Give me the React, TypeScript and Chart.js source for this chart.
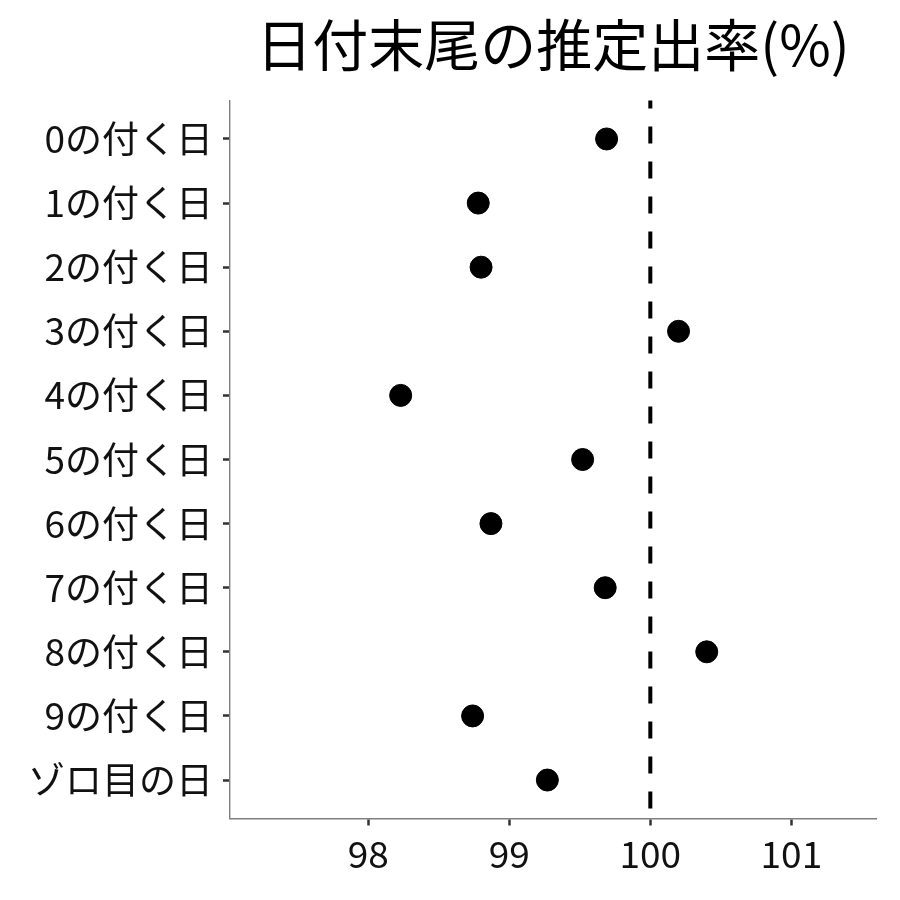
import React, { useEffect, useRef } from "react";
import { Chart, registerables } from "chart.js";

Chart.register(...registerables);

const categories = [
  "0の付く日",
  "1の付く日",
  "2の付く日",
  "3の付く日",
  "4の付く日",
  "5の付く日",
  "6の付く日",
  "7の付く日",
  "8の付く日",
  "9の付く日",
  "ゾロ目の日",
];
const rates = [99.69, 98.78, 98.8, 100.2, 98.23, 99.52, 98.87, 99.68, 100.4, 98.74, 99.27];
const xTicks = [98, 99, 100, 101];
const refValue = 100;
const title = "日付末尾の推定出率(%)";

const FONT = "'Noto Sans CJK JP', 'Noto Sans', sans-serif";

const refLinePlugin = {
  id: "refLine",
  afterDatasetsDraw(chart: any) {
    const { ctx, chartArea, scales } = chart;
    const x = scales.x.getPixelForValue(refValue);
    ctx.save();
    ctx.beginPath();
    ctx.strokeStyle = "#000";
    ctx.lineWidth = 4;
    ctx.setLineDash([17, 18]);
    ctx.lineDashOffset = 9;
    ctx.moveTo(x, chartArea.top);
    ctx.lineTo(x, chartArea.bottom);
    ctx.stroke();
    ctx.restore();
  },
};

export default function App() {
  const ref = useRef<HTMLCanvasElement>(null);
  useEffect(() => {
    if (!ref.current) return;
    const chart = new Chart(ref.current, {
      type: "scatter",
      data: {
        datasets: [
          {
            data: rates.map((v, i) => ({ x: v, y: i })),
            backgroundColor: "#000",
            borderColor: "#000",
            pointRadius: 11,
            pointHoverRadius: 11,
          },
        ],
      },
      options: {
        animation: false,
        responsive: false,
        maintainAspectRatio: false,
        layout: { padding: { left: 0, right: 24, top: 0, bottom: 0 } },
        plugins: {
          legend: { display: false },
          tooltip: { enabled: false },
          title: {
            display: true,
            text: title,
            fullSize: false,
            color: "#000",
            font: { family: FONT, size: 56, weight: "normal", lineHeight: 1.2 },
            padding: { top: 11, bottom: 22.3 },
          },
        },
        scales: {
          x: {
            type: "linear",
            min: 97.02,
            max: 101.6,
            afterBuildTicks: (s: any) => {
              s.ticks = xTicks.map((v) => ({ value: v }));
            },
            afterFit: (s: any) => {
              s.height = 81.5;
            },
            grid: { drawOnChartArea: false, drawTicks: true, tickLength: 7, tickColor: "#333", tickWidth: 2.5 },
            border: { display: true, color: "#7f7f7f", width: 1.4 },
            ticks: {
              color: "#111",
              padding: 6,
              font: { family: FONT, size: 37 },
              callback: (v: any) => String(v),
            },
          },
          y: {
            type: "linear",
            min: -0.6,
            max: 10.6,
            reverse: true,
            afterBuildTicks: (s: any) => {
              s.ticks = categories.map((_, i) => ({ value: i }));
            },
            afterFit: (s: any) => {
              s.width = 230;
            },
            grid: { drawOnChartArea: false, drawTicks: true, tickLength: 7, tickColor: "#333", tickWidth: 2.5 },
            border: { display: true, color: "#7f7f7f", width: 1.4 },
            ticks: {
              color: "#111",
              padding: 10,
              font: { family: FONT, size: 37 },
              callback: (v: any) => categories[v] ?? "",
            },
          },
        },
      },
      plugins: [refLinePlugin],
    });
    return () => chart.destroy();
  }, []);
  return (
    <div style={{ position: "absolute", left: 0, top: 0, width: 900, height: 900, background: "#fff" }}>
      <canvas ref={ref} width={900} height={900} style={{ width: 900, height: 900 }} />
    </div>
  );
}
